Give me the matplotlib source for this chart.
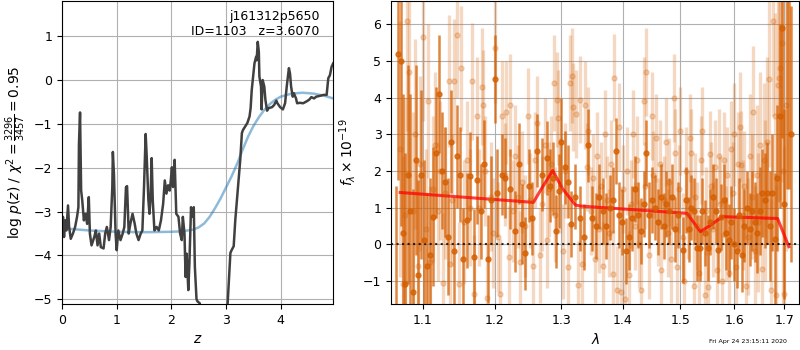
import numpy as np
import matplotlib
matplotlib.use('Agg')
import matplotlib.pyplot as plt
from matplotlib.ticker import NullLocator, FixedLocator, FixedFormatter

# p(z) curve
z_grid = [0.00, 0.018, 0.037, 0.06, 0.08, 0.11, 0.13, 0.16, 0.20, 0.24, 0.275, 0.30, 0.31, 0.33,
          0.35, 0.37, 0.40, 0.43, 0.46, 0.49, 0.51, 0.54, 0.59, 0.62, 0.65, 0.68, 0.71, 0.76,
          0.79, 0.82, 0.86, 0.89, 0.92, 0.93, 0.95, 0.98, 1.00, 1.03, 1.07, 1.11, 1.14, 1.17,
          1.19, 1.22, 1.25, 1.29, 1.33, 1.36, 1.40, 1.44, 1.47, 1.50, 1.53, 1.55, 1.58, 1.60,
          1.62, 1.64, 1.66, 1.69, 1.73, 1.77, 1.81, 1.85, 1.88, 1.91, 1.94, 1.97, 1.99, 2.01,
          2.03, 2.06, 2.09, 2.13, 2.16, 2.19, 2.21, 2.24, 2.26, 2.28, 2.31, 2.33, 2.36, 2.38,
          2.41, 2.43, 2.46, 2.48, 2.52, 2.56, 2.70, 2.85, 2.98, 3.03, 3.08, 3.11, 3.14, 3.17,
          3.20, 3.23, 3.26, 3.29, 3.31, 3.35, 3.39, 3.43, 3.45, 3.47, 3.50, 3.52, 3.55, 3.56,
          3.58, 3.60, 3.61, 3.64, 3.65, 3.67, 3.70, 3.72, 3.75, 3.78, 3.84, 3.88, 3.92, 3.94,
          3.99, 4.04, 4.08, 4.11, 4.15, 4.17, 4.19, 4.22, 4.24, 4.28, 4.30, 4.35, 4.41, 4.47,
          4.52, 4.56, 4.61, 4.65, 4.72, 4.78, 4.84, 4.87, 4.90, 4.93, 4.96]
log_pz = [-3.50, -3.12, -3.58, -3.20, -3.43, -2.86, -3.35, -3.62, -3.50, -3.35, -3.12, -2.90, -1.46, -0.74,
          -2.52, -2.74, -3.20, -3.05, -3.28, -2.67, -3.50, -3.77, -3.58, -3.43, -3.77, -3.50, -3.81, -3.84,
          -3.50, -3.35, -3.65, -3.35, -2.44, -1.64, -2.14, -3.50, -3.88, -3.43, -3.65, -3.50, -3.35, -2.44,
          -2.42, -3.50, -3.28, -3.05, -3.28, -3.50, -3.65, -3.50, -3.43, -2.44, -1.23, -1.76, -2.74, -3.05,
          -2.67, -1.78, -2.74, -3.43, -3.35, -3.43, -3.20, -2.82, -2.29, -2.59, -2.40, -2.52, -2.29, -1.99,
          -2.44, -1.82, -3.05, -3.12, -3.50, -3.65, -3.12, -3.50, -4.49, -3.96, -4.79, -4.18, -2.90, -3.12,
          -2.90, -4.26, -5.00, -5.05, -5.09, -5.60, -6.50, -6.80, -5.70, -5.08, -3.94, -3.86, -3.79, -3.18,
          -2.73, -2.27, -1.82, -1.21, -1.14, -1.06, -0.98, -0.83, -0.64, -0.23, 0.15, 0.38, 0.53, 0.45,
          0.87, 0.64, 0.08, -0.15, -0.67, 0.00, -0.15, -0.45, -0.70, -0.64, -0.62, -0.57, -0.47, -0.53,
          -0.62, -0.67, -0.53, -0.15, 0.27, 0.15, -0.15, -0.38, -0.30, -0.42, -0.53, -0.52, -0.53, -0.49,
          -0.45, -0.39, -0.42, -0.38, -0.36, -0.34, -0.34, 0.04, 0.11, 0.30, 0.38]

# prior curve
z_prior = [0.0, 0.5, 1.0, 1.5, 2.0, 2.2, 2.4, 2.5, 2.6, 2.7, 2.8, 2.9, 3.0, 3.1, 3.2, 3.3,
           3.4, 3.5, 3.6, 3.7, 3.8, 3.9, 4.0, 4.2, 4.4, 4.6, 4.8, 4.96]
log_prior = [-3.38, -3.43, -3.46, -3.47, -3.46, -3.45, -3.41, -3.36, -3.27, -3.12, -2.92, -2.70,
             -2.45, -2.20, -1.92, -1.60, -1.30, -1.05, -0.85, -0.68, -0.55, -0.45, -0.38, -0.31,
             -0.29, -0.31, -0.36, -0.42]

# spectrum, main beam
wave_a = [1.0655, 1.0675, 1.0715, 1.0745, 1.0775, 1.0805, 1.0840, 1.0875, 1.0910, 1.0945, 1.0980,
          1.1020, 1.1060, 1.1100, 1.1140, 1.1180, 1.1220, 1.1260, 1.1300, 1.1340, 1.1380, 1.1420,
          1.1460, 1.1500, 1.1550, 1.1600, 1.1650, 1.1700, 1.1750, 1.1800, 1.1850, 1.1900, 1.1950,
          1.2000, 1.2030, 1.2100, 1.2150, 1.2220, 1.2300, 1.2350, 1.2400, 1.2450, 1.2500, 1.2550,
          1.2630, 1.2700, 1.2770, 1.2830, 1.2870, 1.2920, 1.2960, 1.3000, 1.3050, 1.3100, 1.3150,
          1.3220, 1.3300, 1.3360, 1.3420, 1.3480, 1.3550, 1.3600, 1.3660, 1.3720, 1.3780, 1.3830,
          1.3880, 1.3930, 1.3980, 1.4050, 1.4100, 1.4150, 1.4200, 1.4250, 1.4300, 1.4350, 1.4400,
          1.4450, 1.4500, 1.4550, 1.4600, 1.4650, 1.4700, 1.4750, 1.4800, 1.4850, 1.4900, 1.4950,
          1.5050, 1.5100, 1.5150, 1.5200, 1.5250, 1.5300, 1.5350, 1.5400, 1.5450, 1.5500, 1.5550,
          1.5600, 1.5650, 1.5700, 1.5750, 1.5800, 1.5850, 1.5900, 1.5950, 1.6000, 1.6050, 1.6100,
          1.6150, 1.6200, 1.6250, 1.6300, 1.6350, 1.6400, 1.6450, 1.6500, 1.6550, 1.6600, 1.6650,
          1.6700, 1.6750, 1.6800, 1.6850, 1.6900, 1.6950, 1.7000, 1.7050, 1.7100, 1.7140]
flux_a = [-3.0, 5.2, 5.0, 0.3, -1.1, 1.9, 0.9, -1.3, 2.3, -0.85, 1.9,
          0.1, -0.6, -0.3, 0.75, 2.5, 4.1, 2.0, 1.7, 0.2, 2.8, -0.2,
          2.4, 1.9, -0.4, 0.65, 1.85, -0.35, 1.75, 0.9, 2.2, -0.4, 1.2,
          4.5, 1.4, 1.9, 1.8, 1.5, 0.35, 2.2, 0.55, -0.25, 1.6, 0.7,
          2.55, 1.9, 2.35, 1.6, 1.8, 0.35, 1.45, 2.8, 2.1, 1.7, 0.55,
          1.3, 0.7, 0.2, 2.7, 0.7, 0.5, 1.3, 0.9, 0.5, 1.0, 1.2,
          2.55, 0.8, 0.6, -0.2, 0.2, 0.7, 1.5, 0.8, 0.35, 1.1, 2.5,
          0.8, 1.2, 1.0, 0.6, 1.3, 0.5, 1.1, 0.9, 1.3, 0.4, 0.8,
          -0.15, 1.2, 0.4, 1.0, 0.9, -0.1, -0.1, 0.9, 0.3, -0.1, 0.6,
          1.3, 0.9, -0.15, 0.75, 1.2, 0.3, 0.1, 0.6, 0.0, -0.2, 0.8,
          -0.3, 0.5, 1.0, 0.4, 0.9, 0.6, 0.3, 0.9, 1.4, 1.2, 1.4,
          0.5, 1.4, 0.15, 1.8, 3.5, 5.9, 1.1, 8.0, 7.5, 3.0]
err_a = [4.6, 3.45, 4.5, 3.8, 3.6, 3.0, 3.2, 2.8, 2.6, 2.6, 2.3,
         2.2, 2.0, 2.1, 1.9, 1.8, 1.6, 1.6, 1.5, 1.6, 1.4, 1.5,
         1.4, 1.3, 1.4, 1.3, 1.2, 1.3, 1.2, 1.3, 1.2, 1.2, 1.2,
         1.2, 1.2, 1.1, 1.1, 1.1, 1.1, 1.1, 1.1, 1.0, 1.0, 1.0,
         1.0, 1.0, 1.0, 1.0, 1.0, 1.0, 1.0, 1.2, 1.0, 1.0, 0.9,
         0.9, 0.9, 0.9, 1.0, 0.9, 0.9, 0.9, 0.9, 0.9, 0.9, 0.9,
         0.9, 0.9, 0.9, 0.9, 0.9, 0.9, 0.9, 0.9, 0.9, 0.9, 0.9,
         0.9, 0.9, 0.9, 0.9, 0.9, 0.9, 0.9, 0.9, 0.9, 0.9, 0.9,
         0.9, 0.9, 0.9, 0.9, 0.9, 0.9, 0.9, 0.9, 0.9, 0.9, 0.9,
         0.9, 0.9, 0.9, 0.9, 1.0, 1.0, 1.0, 1.0, 1.0, 1.0, 1.0,
         1.0, 1.0, 1.0, 1.0, 1.1, 1.1, 1.1, 1.2, 1.2, 1.3, 1.4,
         1.5, 1.6, 1.8, 2.0, 2.5, 3.0, 2.6, 6.5, 6.0, 3.5]

# spectrum, other beams
wave_b = [1.070, 1.074, 1.077, 1.080, 1.082, 1.087, 1.090, 1.094, 1.097, 1.100, 1.104, 1.107,
          1.110, 1.114, 1.117, 1.120, 1.124, 1.127, 1.130, 1.135, 1.137, 1.140, 1.143, 1.146,
          1.149, 1.152, 1.156, 1.160, 1.164, 1.168, 1.170, 1.174, 1.177, 1.181, 1.183, 1.186,
          1.189, 1.194, 1.197, 1.200, 1.204, 1.208, 1.210, 1.214, 1.216, 1.220, 1.222, 1.227,
          1.230, 1.234, 1.237, 1.240, 1.244, 1.249, 1.252, 1.257, 1.260, 1.263, 1.267, 1.270,
          1.274, 1.277, 1.280, 1.284, 1.288, 1.290, 1.293, 1.295, 1.298, 1.302, 1.306, 1.310,
          1.314, 1.317, 1.319, 1.323, 1.326, 1.330, 1.333, 1.337, 1.340, 1.343, 1.347, 1.350,
          1.354, 1.357, 1.360, 1.364, 1.367, 1.370, 1.374, 1.377, 1.380, 1.383, 1.385, 1.390,
          1.394, 1.397, 1.400, 1.404, 1.407, 1.410, 1.414, 1.417, 1.420, 1.424, 1.427, 1.430,
          1.435, 1.437, 1.440, 1.444, 1.449, 1.452, 1.456, 1.460, 1.463, 1.466, 1.470, 1.474,
          1.477, 1.480, 1.484, 1.488, 1.490, 1.494, 1.497, 1.500, 1.504, 1.507, 1.510, 1.514,
          1.517, 1.520, 1.524, 1.527, 1.530, 1.534, 1.537, 1.540, 1.545, 1.547, 1.550, 1.554,
          1.557, 1.560, 1.564, 1.567, 1.571, 1.574, 1.577, 1.580, 1.584, 1.587, 1.590, 1.594,
          1.597, 1.600, 1.604, 1.607, 1.611, 1.614, 1.617, 1.620, 1.624, 1.627, 1.630, 1.634,
          1.637, 1.640, 1.644, 1.647, 1.650, 1.655, 1.658, 1.661, 1.665, 1.669, 1.672, 1.676,
          1.680, 1.683, 1.686, 1.689, 1.691, 1.694, 1.697, 1.700, 1.704]
flux_b = [2.6, -1.1, 0.8, 6.1, 4.7, 0.9, 3.0, -0.6, 2.2, 5.65, 0.4, 3.9,
          -0.5, 1.5, 2.7, 0.9, 2.0, -1.05, 1.4, 4.45, -0.53, 1.2, 4.45, 5.7,
          -1.1, 4.8, 0.6, 2.3, 1.0, 4.45, -1.35, 3.5, 1.0, 4.3, 3.8, 2.0,
          -1.47, 1.3, 0.3, 5.35, 0.2, -1.35, 3.5, 1.9, 3.6, -0.35, 3.8, 0.9,
          2.4, 1.3, -0.5, 1.7, 0.5, 3.5, 1.2, -0.6, 2.3, 3.3, -0.3, 1.1,
          2.7, 0.1, 1.5, 2.2, 4.4, 0.8, 3.95, 3.45, 1.6, -0.2, 2.0, -0.62,
          4.4, 4.6, 3.75, 3.55, -1.12, 3.95, -0.55, 3.8, 2.1, 3.1, 0.9, 1.8,
          -0.4, 2.4, 0.4, 1.6, -0.6, 3.0, 1.2, 0.3, 2.2, -0.82, 4.55, -1.26,
          3.2, -1.3, 1.5, -1.49, 2.0, -0.85, 1.1, 3.0, 0.5, 2.3, 0.0, -1.26,
          3.9, 1.6, 4.7, -0.3, 3.5, 1.9, 2.9, 0.6, 2.2, -0.7, 1.2, 2.8,
          0.3, 1.7, -0.4, 4.0, 2.5, -0.62, 1.5, 3.1, 0.2, -1.0, 2.0, 0.8,
          2.9, 2.5, -1.15, 1.3, 0.5, -0.8, 2.3, 3.1, -1.4, 0.9, -1.17, 2.45,
          1.6, 0.4, 2.1, -0.7, 2.4, 1.1, -1.0, 2.3, 0.3, 1.9, -0.8, 2.6,
          1.4, 3.0, -0.62, 2.2, 3.2, 2.15, 0.8, 1.6, -1.15, 0.2, 2.4, 1.3,
          3.6, -0.2, 1.9, 0.6, 2.7, -0.67, 2.3, 1.2, 2.8, 4.5, -1.26, 6.1,
          3.5, -1.4, 4.35, 4.55, 4.8, 5.5, 2.0, -1.35, 3.8]
err_b = [3.5, 3.5, 3.2, 3.0, 2.8, 2.7, 2.6, 2.5, 2.4, 2.3, 2.2, 2.1,
         2.1, 2.0, 2.0, 1.9, 1.9, 1.9, 1.8, 1.8, 1.8, 1.8, 1.7, 1.7,
         1.7, 1.7, 1.7, 1.6, 1.6, 1.6, 1.6, 1.6, 1.6, 1.6, 1.5, 1.5,
         1.5, 1.5, 1.5, 1.5, 1.5, 1.5, 1.5, 1.4, 1.4, 1.4, 1.4, 1.4,
         1.4, 1.4, 1.4, 1.4, 1.4, 1.3, 1.3, 1.3, 1.3, 1.3, 1.3, 1.3,
         1.3, 1.3, 1.3, 1.3, 1.3, 1.3, 1.3, 1.3, 1.3, 1.3, 1.3, 1.2,
         1.3, 1.3, 1.2, 1.2, 1.2, 1.2, 1.2, 1.2, 1.2, 1.2, 1.2, 1.2,
         1.2, 1.2, 1.2, 1.2, 1.2, 1.2, 1.2, 1.2, 1.2, 1.2, 1.2, 1.2,
         1.2, 1.2, 1.2, 1.2, 1.2, 1.2, 1.2, 1.2, 1.2, 1.2, 1.2, 1.2,
         1.2, 1.2, 1.2, 1.2, 1.2, 1.2, 1.2, 1.2, 1.2, 1.2, 1.2, 1.2,
         1.2, 1.2, 1.2, 1.2, 1.2, 1.2, 1.2, 1.2, 1.2, 1.2, 1.2, 1.2,
         1.2, 1.2, 1.2, 1.2, 1.2, 1.2, 1.2, 1.2, 1.2, 1.2, 1.2, 1.2,
         1.2, 1.3, 1.3, 1.3, 1.3, 1.3, 1.3, 1.3, 1.3, 1.3, 1.3, 1.3,
         1.4, 1.4, 1.4, 1.4, 1.5, 1.5, 1.5, 1.5, 1.6, 1.6, 1.7, 1.7,
         1.8, 1.8, 1.9, 1.9, 2.0, 2.0, 2.1, 2.2, 2.3, 2.4, 2.5, 2.6,
         2.8, 3.0, 3.2, 3.4, 3.6, 3.8, 4.0, 4.0, 4.0]

# best-fit model
wave_model = [1.0708, 1.257, 1.268, 1.2865, 1.301, 1.322, 1.330, 1.512, 1.5366, 1.5555,
              1.578, 1.686, 1.709]
flux_model = [1.41, 1.14, 1.48, 2.01, 1.53, 1.07, 1.04, 0.84, 0.34, 0.52, 0.75, 0.70, -0.07]

root = 'j161312p5650'
obj_id = 1103
z_best = 3.6070
chi2, dof = 3296, 3457
stamp = 'Fri Apr 24 23:15:11 2020'

plt.rcParams['font.size'] = 9
fig = plt.figure(figsize=(8, 3.5), dpi=100)

# p(z) panel
ax = fig.add_axes([0.0775, 0.131, 0.339, 0.866])
ax.plot(z_prior, log_prior, color='#1f77b4', alpha=0.5, lw=1.8)
ax.plot(z_grid, log_pz, color='0.25', lw=1.8)
ax.set_xlim(0, 4.96)
ax.set_ylim(-5.11, 1.8)
ax.set_xticks([0, 1, 2, 3, 4])
ax.set_yticks([-5, -4, -3, -2, -1, 0, 1])
ax.grid()
ax.set_xlabel(r'$z$', fontsize=10)
ax.set_ylabel(r'$\log\,p(z)$' + ' / ' +
              r'$\chi^2=\frac{%d}{%d}=%.2f$' % (chi2, dof, chi2 / dof), fontsize=10)
ax.text(0.95, 0.97, '%s\nID=%d   z=%.4f' % (root, obj_id, z_best),
        transform=ax.transAxes, ha='right', va='top', fontsize=9)

# spectrum panel
ax2 = fig.add_axes([0.489, 0.131, 0.510, 0.866])
ax2.errorbar(wave_b, flux_b, err_b, marker='o', linestyle='none', color='#d55e00',
             alpha=0.24, markersize=3.6, elinewidth=2.4)
ax2.errorbar(wave_a, flux_a, err_a, marker='o', linestyle='none', color='#d55e00',
             alpha=0.75, markersize=3.6, elinewidth=1.8)
ax2.plot(wave_model, flux_model, color='r', alpha=0.75, lw=2.2)
ax2.axhline(0, color='k', linestyle=':', lw=1.5, alpha=0.8)
ax2.set_xscale('log')
ax2.set_xlim(1.0593, 1.7304)
ax2.set_ylim(-1.64, 6.64)
xt = [1.1, 1.2, 1.3, 1.4, 1.5, 1.6, 1.7]
ax2.xaxis.set_major_locator(FixedLocator(xt))
ax2.xaxis.set_major_formatter(FixedFormatter(['%.1f' % t for t in xt]))
ax2.xaxis.set_minor_locator(NullLocator())
ax2.set_yticks([-1, 0, 1, 2, 3, 4, 5, 6])
ax2.grid()
ax2.set_xlabel(r'$\lambda$', fontsize=10)
ax2.set_ylabel(r'$f_\lambda \times 10^{-19}$', fontsize=10)

fig.text(0.984, 0.018, stamp, ha='right', va='bottom', fontsize=4.5)

fig.savefig('out.png', dpi=100)
